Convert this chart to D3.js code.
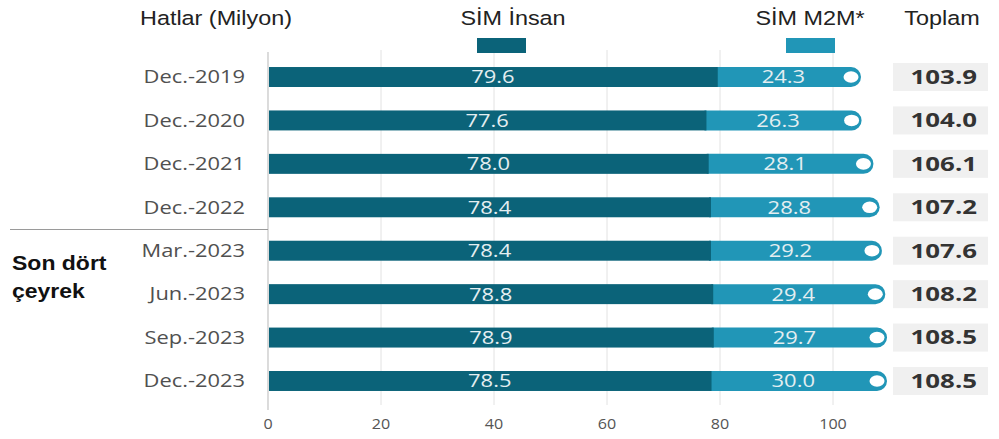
<!DOCTYPE html>
<html>
<head>
<meta charset="utf-8">
<script src="https://cdn.jsdelivr.net/npm/d3@7"></script>
<style>
  body { margin: 0; background: #fff; }
</style>
</head>
<body>
<script>
const periods = ["Dec.-2019", "Dec.-2020", "Dec.-2021", "Dec.-2022", "Mar.-2023", "Jun.-2023", "Sep.-2023", "Dec.-2023"];
const insan = [79.6, 77.6, 78.0, 78.4, 78.4, 78.8, 78.9, 78.5];
const m2m = [24.3, 26.3, 28.1, 28.8, 29.2, 29.4, 29.7, 30.0];
const toplam = [103.9, 104.0, 106.1, 107.2, 107.6, 108.2, 108.5, 108.5];
const ticks = [0, 20, 40, 60, 80, 100];

const width = 999, height = 439;
const darkColor = "#0b6379";
const lightColor = "#2196b7";
const sans = "'Open Sans', sans-serif";
const arial = "'Liberation Sans', Arial, sans-serif";

const rows = periods.map((p, i) => ({ period: p, insan: insan[i], m2m: m2m[i], total: toplam[i] }));

const x = d3.scaleLinear().domain([0, 100]).range([268, 833]);
const y = d3.scaleBand().domain(periods).range([55.3, 402.7]).paddingInner(0.54).paddingOuter(0.27);
const bh = y.bandwidth();
const mid = d => y(d.period) + bh / 2;

const svg = d3.select("body").append("svg")
    .attr("width", width)
    .attr("height", height)
    .attr("viewBox", [0, 0, width, height]);

// the source picture is stretched sideways, so text gets a horizontal scale
function place(sel, fx, fy, sx) {
    sel.attr("transform", function(d, i) {
        const px = typeof fx === "function" ? fx(d, i) : fx;
        const py = typeof fy === "function" ? fy(d, i) : fy;
        return `translate(${px},${py}) scale(${sx},1)`;
    });
}

// gridlines
svg.append("g")
    .selectAll("line")
    .data(ticks.slice(1))
    .enter()
    .append("line")
    .attr("x1", d => x(d)).attr("x2", d => x(d))
    .attr("y1", 50).attr("y2", 405)
    .attr("stroke", "#e2e2e2")
    .attr("stroke-width", 1);

// tick labels
const tl = svg.append("g").selectAll("text").data(ticks).enter().append("text")
    .attr("text-anchor", "middle")
    .attr("font-family", sans)
    .attr("font-size", 14)
    .attr("fill", "#555")
    .text(d => d);
place(tl, d => x(d), 429, 1.15);

svg.append("line")
    .attr("x1", x(0)).attr("x2", x(0))
    .attr("y1", 52).attr("y2", 410)
    .attr("stroke", "#c4c4c4")
    .attr("stroke-width", 1.2);

// separator for last four quarters
svg.append("line")
    .attr("x1", 10).attr("x2", x(0))
    .attr("y1", 229.5).attr("y2", 229.5)
    .attr("stroke", "#9a9a9a")
    .attr("stroke-width", 1);

const g = svg.append("g").selectAll("g").data(rows).enter().append("g");

// light (M2M) segment with rounded cap
g.append("path")
    .attr("fill", lightColor)
    .attr("d", d => {
        const x0 = x(d.insan) - 2, x1 = x(d.total) - 4;
        const top = y(d.period), r = bh / 2;
        return `M${x0},${top}H${x1}A${r},${r} 0 0 1 ${x1},${top + bh}H${x0}Z`;
    });

g.append("ellipse")
    .attr("cx", d => x(d.total) - 4)
    .attr("cy", mid)
    .attr("rx", 7.5)
    .attr("ry", 5.8)
    .attr("fill", "#fff");

// dark (insan) segment
g.append("rect")
    .attr("x", x(0) + 1)
    .attr("y", d => y(d.period))
    .attr("width", d => x(d.insan) - x(0) - 1)
    .attr("height", bh)
    .attr("fill", darkColor);

// value labels
const v1 = g.append("text")
    .attr("dy", "0.36em")
    .attr("text-anchor", "middle")
    .attr("font-family", sans)
    .attr("font-size", 18)
    .attr("fill", "#e4eef1")
    .text(d => d.insan.toFixed(1));
place(v1, d => (x(0) + x(d.insan)) / 2, mid, 1.22);

const v2 = g.append("text")
    .attr("dy", "0.36em")
    .attr("text-anchor", "middle")
    .attr("font-family", sans)
    .attr("font-size", 18)
    .attr("fill", "#e4eef1")
    .text(d => d.m2m.toFixed(1));
place(v2, d => (x(d.insan) + x(d.total) - 6) / 2, mid, 1.22);

// category labels
const cl = g.append("text")
    .attr("dy", "0.36em")
    .attr("text-anchor", "end")
    .attr("font-family", sans)
    .attr("font-size", 17.5)
    .attr("fill", "#505050")
    .text(d => d.period);
place(cl, 245, mid, 1.25);

// total boxes
g.append("rect")
    .attr("x", 893)
    .attr("y", d => mid(d) - 14)
    .attr("width", 95)
    .attr("height", 28)
    .attr("fill", "#f0f0f0");

const tt = g.append("text")
    .attr("dy", "0.36em")
    .attr("text-anchor", "end")
    .attr("font-family", sans)
    .attr("font-weight", "bold")
    .attr("font-size", 19)
    .attr("fill", "#333")
    .text(d => d.total.toFixed(1));
place(tt, 977, mid, 1.36);

// headers
const hdr = [
    { t: "Hatlar (Milyon)", x: 216 },
    { t: "SİM İnsan", x: 513 },
    { t: "SİM M2M*", x: 810 },
    { t: "Toplam", x: 942 }
];
const ht = svg.append("g").selectAll("text").data(hdr).enter().append("text")
    .attr("text-anchor", "middle")
    .attr("font-family", arial)
    .attr("font-size", 19.5)
    .attr("fill", "#222")
    .text(d => d.t);
place(ht, d => d.x, 25, 1.2);

// legend swatches
svg.append("rect").attr("x", 477).attr("y", 38).attr("width", 49).attr("height", 15).attr("fill", darkColor);
svg.append("rect").attr("x", 786).attr("y", 38).attr("width", 49).attr("height", 15).attr("fill", lightColor);

// side label
const side = [{ t: "Son dört", y: 270 }, { t: "çeyrek", y: 298 }];
const st = svg.append("g").selectAll("text").data(side).enter().append("text")
    .attr("font-family", arial)
    .attr("font-weight", "bold")
    .attr("font-size", 20)
    .attr("fill", "#111")
    .text(d => d.t);
place(st, 12, d => d.y, 1.15);
</script>
</body>
</html>
